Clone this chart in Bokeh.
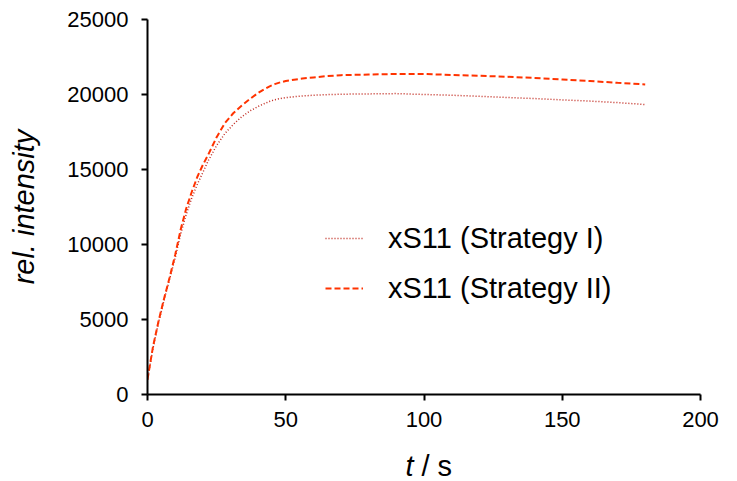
from bokeh.plotting import figure
from bokeh.models import Range1d, Legend, LegendItem, Label, SingleIntervalTicker
from bokeh.embed import file_html
from bokeh.resources import INLINE

t_values = [0, 2, 4, 6, 8, 10, 12, 14, 16, 18, 20, 22, 25, 28, 31, 34, 37, 40, 42, 44, 46, 48, 50,
            53, 56, 60, 65, 70, 80, 90, 100, 110, 120, 130, 140, 150, 160, 170, 180]
strategy_1 = [1000, 3100, 4800, 6300, 7700, 9100, 10700, 12000, 13100, 14000, 14800, 15600, 16600,
              17400, 18000, 18500, 18900, 19200, 19370, 19530, 19650, 19730, 19790,
              19850, 19900, 19950, 19990, 20020, 20040, 20060,
              20000, 19950, 19880, 19800, 19730, 19640, 19560, 19460, 19330]
strategy_2 = [1000, 3200, 4900, 6400, 7800, 9300, 11000, 12400, 13500, 14500, 15300, 16000, 17150,
              18100, 18750, 19250, 19700, 20100, 20330, 20530, 20690, 20810, 20900,
              20990, 21060, 21140, 21230, 21290, 21330, 21370,
              21370, 21300, 21250, 21180, 21100, 21000, 20900, 20780, 20670]
series_names = ["xS11 (Strategy I)", "xS11 (Strategy II)"]

FONT = "Liberation Sans"

p = figure(width=737, height=481, output_backend="svg", toolbar_location=None,
           x_range=Range1d(0, 200), y_range=Range1d(0, 25000),
           min_border_left=147, min_border_right=37, min_border_top=19, min_border_bottom=87)
p.outline_line_color = None
p.xgrid.visible = False
p.ygrid.visible = False

r1 = p.line(t_values, strategy_1, line_color="#c0281e", line_width=1.5, line_dash="1 2")
r2 = p.line(t_values, strategy_2, line_color="#ff3300", line_width=2, line_dash="6 3")

for ax in (p.xaxis[0], p.yaxis[0]):
    ax.axis_line_width = 2
    ax.axis_line_color = "black"
    ax.major_tick_line_width = 2
    ax.major_tick_line_color = "black"
    ax.major_tick_out = 6
    ax.major_tick_in = 0
    ax.minor_tick_line_color = None
    ax.major_label_text_font = FONT
    ax.major_label_text_font_size = "22px"
    ax.major_label_text_color = "black"

p.xaxis[0].ticker = SingleIntervalTicker(interval=50)
p.yaxis[0].ticker = SingleIntervalTicker(interval=5000)
p.yaxis[0].major_label_standoff = 13
p.xaxis[0].major_label_standoff = 11

p.yaxis[0].axis_label = "rel. intensity"
p.yaxis[0].axis_label_text_font = FONT
p.yaxis[0].axis_label_text_font_style = "italic"
p.yaxis[0].axis_label_text_font_size = "29px"
p.yaxis[0].axis_label_text_color = "black"
p.yaxis[0].axis_label_standoff = 24

lab_t = Label(x=266, y=-4, x_units="screen", y_units="screen", text="t", text_font=FONT,
              text_font_style="italic", text_font_size="29px", text_align="right",
              text_baseline="middle", text_color="black")
p.add_layout(lab_t, "below")
lab_s = Label(x=-279, y=-71, x_units="screen", y_units="screen", text="/ s", text_font=FONT,
              text_font_style="normal", text_font_size="29px", text_align="left",
              text_baseline="middle", text_color="black")
p.add_layout(lab_s, "right")

legend = Legend(items=[LegendItem(label=series_names[0], renderers=[r1]),
                       LegendItem(label=series_names[1], renderers=[r2])],
                location=(178, 81), orientation="vertical")
legend.border_line_color = None
legend.background_fill_alpha = 0
legend.padding = 0
legend.margin = 0
legend.spacing = 0
legend.glyph_width = 38
legend.glyph_height = 50
legend.label_height = 50
legend.label_standoff = 25
legend.label_text_font = FONT
legend.label_text_font_size = "29px"
legend.label_text_color = "black"
p.add_layout(legend, "center")

open("out.html", "w").write(file_html(p, INLINE))
